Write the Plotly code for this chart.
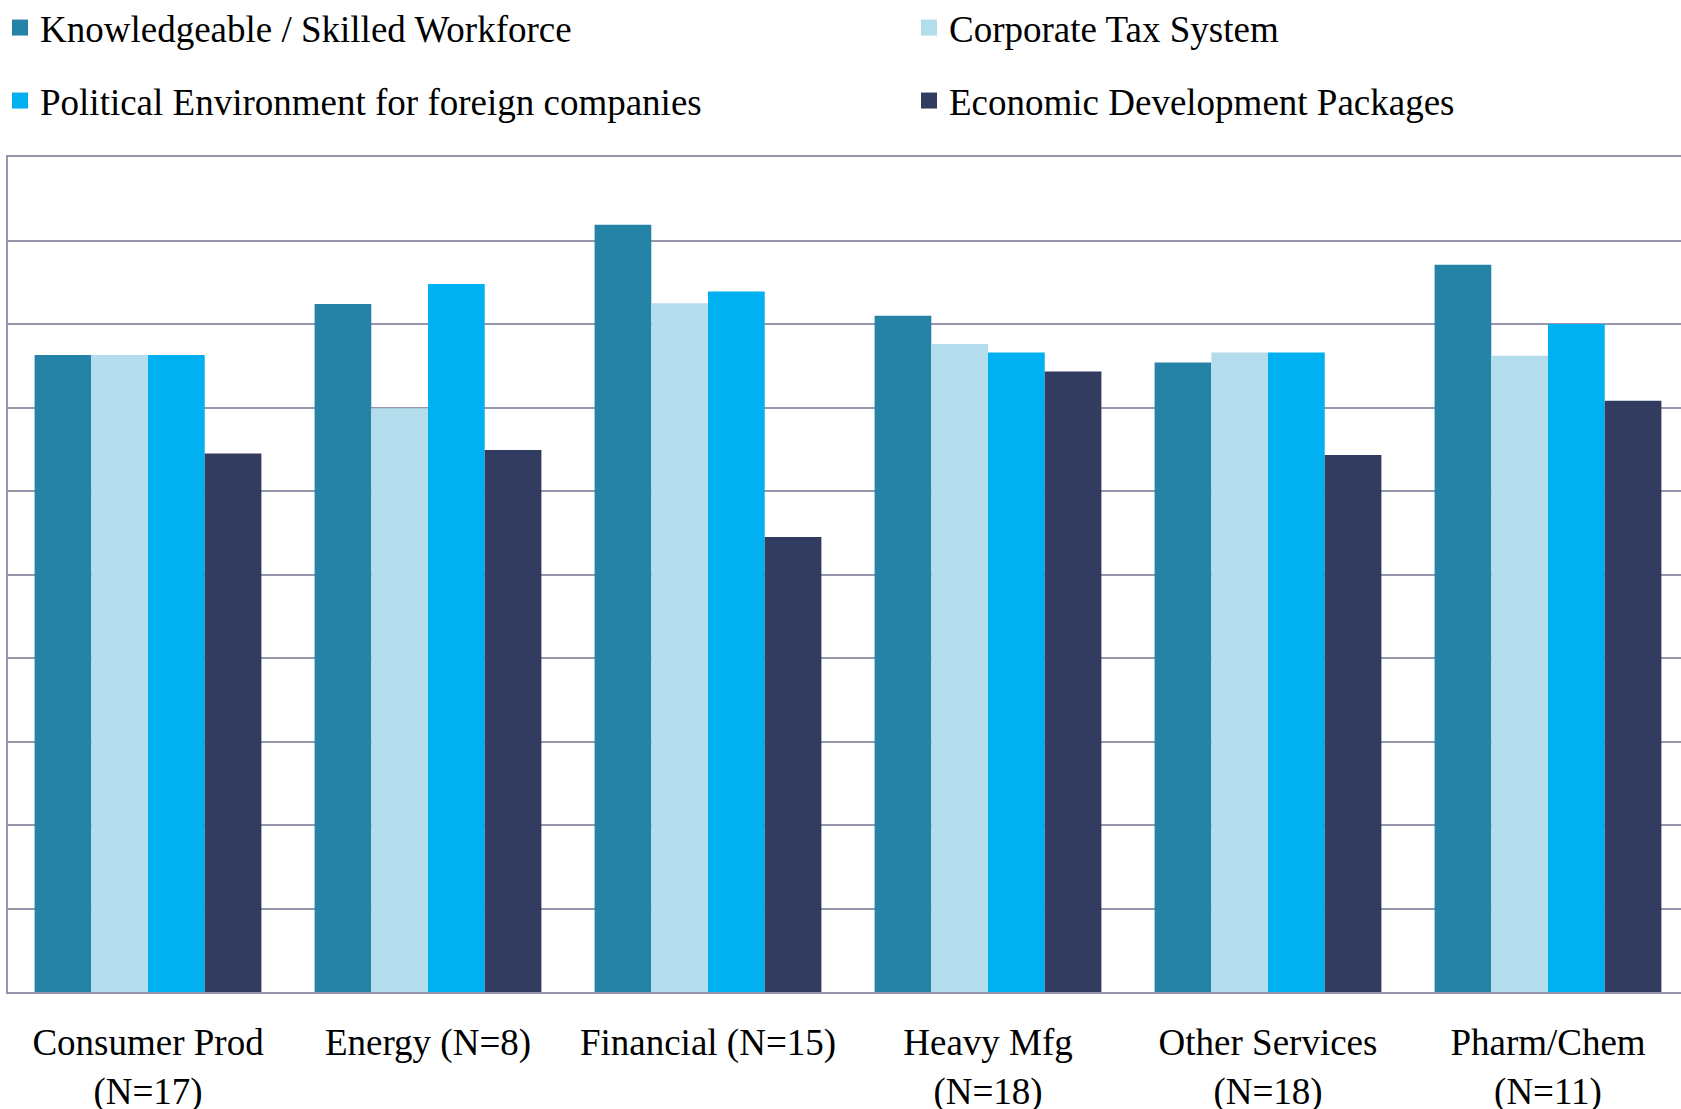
import plotly.graph_objects as go

categories = ["Consumer Prod<br>(N=17)", "Energy (N=8)", "Financial (N=15)",
              "Heavy Mfg<br>(N=18)", "Other Services<br>(N=18)", "Pharm/Chem<br>(N=11)"]
series_names = ["Knowledgeable / Skilled Workforce", "Corporate Tax System",
                "Political Environment for foreign companies", "Economic Development Packages"]
knowledgeable = [7.63, 8.24, 9.19, 8.10, 7.54, 8.71]
corporate_tax = [7.63, 6.99, 8.25, 7.76, 7.66, 7.62]
political_env = [7.63, 8.48, 8.39, 7.66, 7.66, 8.00]
econ_dev = [6.45, 6.49, 5.45, 7.43, 6.43, 7.08]
y_ticks = [0, 1, 2, 3, 4, 5, 6, 7, 8, 9, 10]

colors = ["#2583A8", "#B3DCED", "#00B0F0", "#313C60"]
values = [knowledgeable, corporate_tax, political_env, econ_dev]
legends = ["legend", "legend2", "legend3", "legend4"]

W, H = 1681, 1109
FONT = "Liberation Serif, Times New Roman, serif"
GRID = "#9598AA"
FS = 37

fig = go.Figure()
for name, vals, col in zip(series_names, values, colors):
    fig.add_trace(go.Bar(x=categories, y=vals, name=name, marker_color=col,
                         marker_line_width=0, showlegend=False))
# legend entries with larger square swatches
for name, col, lg in zip(series_names, colors, legends):
    fig.add_trace(go.Scatter(x=[None], y=[None], mode="markers", name=name,
                             marker=dict(symbol="square", size=18, color=col),
                             legend=lg, hoverinfo="skip"))

leg_pos = {
    "legend": (0.0, 1 - 28 / H),
    "legend2": (909 / W, 1 - 28 / H),
    "legend3": (0.0, 1 - 101 / H),
    "legend4": (909 / W, 1 - 101 / H),
}
leg_layout = {}
for lg, (lx, ly) in leg_pos.items():
    leg_layout[lg] = dict(x=lx, y=ly, xref="container", yref="container",
                          xanchor="left", yanchor="middle",
                          font=dict(family=FONT, size=FS, color="#000000"),
                          bgcolor="rgba(0,0,0,0)", itemwidth=30)

plot_left = 8
plot_w = W - plot_left
cat_w = 280

fig.update_layout(
    width=W, height=H,
    margin=dict(l=plot_left, r=0, t=157, b=H - 992, pad=0, autoexpand=False),
    paper_bgcolor="white", plot_bgcolor="white",
    barmode="group", bargap=0.19, bargroupgap=0,
    font=dict(family=FONT, size=FS, color="#000000"),
    showlegend=True,
    **leg_layout,
)
fig.update_xaxes(
    range=[-0.5, -0.5 + plot_w / cat_w],
    showline=True, linecolor=GRID, linewidth=2, mirror=True,
    showgrid=False, zeroline=False, tickangle=0, automargin=False,
    ticks="outside", ticklen=17, tickcolor="rgba(0,0,0,0)",
    tickfont=dict(family=FONT, size=FS, color="#000000"),
)
fig.update_yaxes(
    range=[0, 10], tickvals=y_ticks, showticklabels=False,
    showgrid=True, gridcolor=GRID, gridwidth=2, automargin=False,
    showline=True, linecolor=GRID, linewidth=2,
    zeroline=False,
)

fig.write_html("out.html", config={"displayModeBar": False},
               post_script="document.body.style.margin='0';document.body.style.overflow='hidden';")
